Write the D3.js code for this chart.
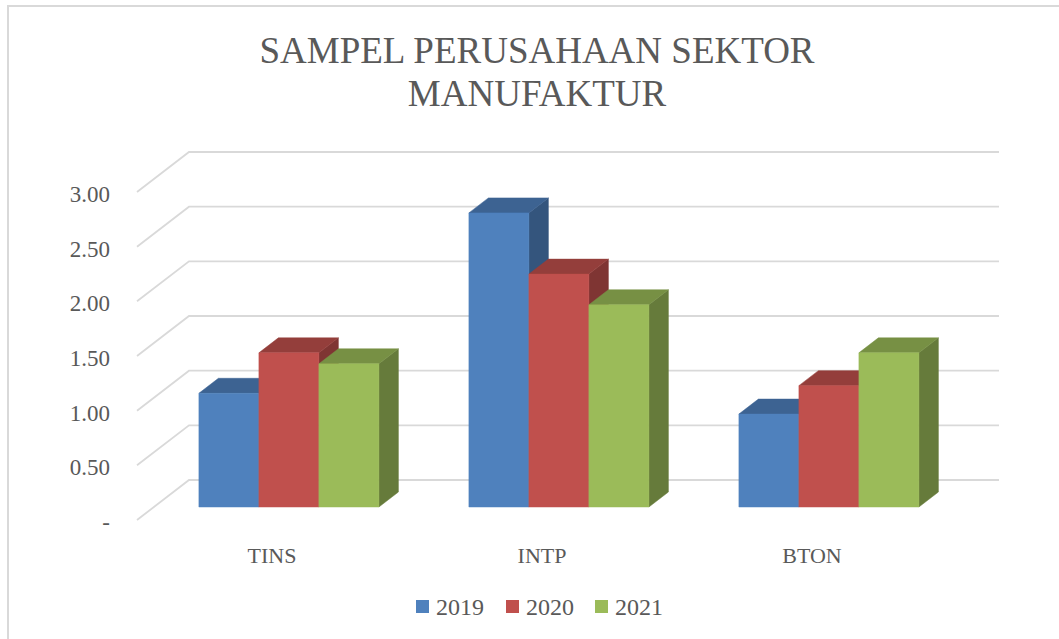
<!doctype html>
<html>

<head>
    <meta charset="utf-8">
    <title>Sampel Perusahaan Sektor Manufaktur</title>
    <style>
        body { margin: 0; background: #fff; }
    </style>
</head>

<body>
    <script src="https://d3js.org/d3.v7.min.js"></script>
    <script>
    // data
    var categories = ["TINS", "INTP", "BTON"];
    var years = ["2019", "2020", "2021"];
    var values2019 = [1.04, 2.69, 0.85];
    var values2020 = [1.41, 2.13, 1.11];
    var values2021 = [1.31, 1.85, 1.41];
    var yTicks = [0, 0.5, 1, 1.5, 2, 2.5, 3];

    var seriesValues = [values2019, values2020, values2021];
    var colors = ["#4F81BD", "#C0504D", "#9BBB59"];
    var topColors = ["#3D6392", "#943E3B", "#779044"];
    var sideColors = ["#34557D", "#7F3533", "#667B3B"];
    var serif = "'Liberation Serif', 'DejaVu Serif', serif";

    var width = 1059, height = 639;

    // front plane of the plot, and the depth offset to the back wall
    var front = { left: 137, right: 947, bottom: 520, top: 192 };
    var depth = { dx: 52, dy: -40 };
    // bars sit between these fractions of the depth
    var barFront = 0.325, barBack = 0.7;

    function proj(x, y, f) {
        return [x + f * depth.dx, y + f * depth.dy];
    }

    var svg = d3.select("body")
        .append("svg")
        .attr("width", width)
        .attr("height", height);

    // chart frame
    svg.append("rect")
        .attr("x", 8)
        .attr("y", 6)
        .attr("width", 1100)
        .attr("height", 700)
        .attr("fill", "none")
        .attr("stroke", "#D9D9D9")
        .attr("stroke-width", 2);

    var x0 = d3.scaleBand()
        .domain(categories)
        .range([front.left, front.right])
        .paddingInner(1 / 3)
        .paddingOuter(1 / 6);

    var x1 = d3.scaleBand()
        .domain(years)
        .range([0, x0.bandwidth()]);

    var y = d3.scaleLinear()
        .domain([0, 3])
        .range([front.bottom, front.top]);

    // gridlines: diagonal on the side wall, then flat on the back wall
    var grid = svg.append("g");
    yTicks.forEach(function (t) {
        var a = proj(front.left, y(t), 0);
        var b = proj(front.left, y(t), 1);
        var c = proj(front.right, y(t), 1);
        grid.append("polyline")
            .attr("points", [a, b, c].map(function (p) { return p.join(","); }).join(" "))
            .attr("fill", "none")
            .attr("stroke", "#D9D9D9")
            .attr("stroke-width", 1.8);
    });

    // y axis labels
    var yAxis = svg.append("g")
        .attr("transform", "translate(" + front.left + ",2)")
        .call(d3.axisLeft(y)
            .tickValues(yTicks)
            .tickSize(0)
            .tickPadding(27)
            .tickFormat(function (d) { return d === 0 ? "-" : d3.format(".2f")(d); }));
    yAxis.select(".domain").remove();
    yAxis.selectAll("text")
        .style("font-family", serif)
        .style("font-size", "23px")
        .style("fill", "#595959");

    // bars
    var bars = svg.append("g");
    categories.forEach(function (cat, ci) {
        years.forEach(function (yr, si) {
            var v = seriesValues[si][ci];
            var xl = x0(cat) + x1(yr);
            var xr = xl + x1.bandwidth();
            var yb = y(0), yt = y(v);

            var fTL = proj(xl, yt, barFront), fTR = proj(xr, yt, barFront);
            var fBL = proj(xl, yb, barFront), fBR = proj(xr, yb, barFront);
            var bTL = proj(xl, yt, barBack), bTR = proj(xr, yt, barBack);
            var bBR = proj(xr, yb, barBack);

            function poly(pts, fill) {
                bars.append("polygon")
                    .attr("points", pts.map(function (p) { return p.join(","); }).join(" "))
                    .attr("fill", fill)
                    .attr("stroke", fill)
                    .attr("stroke-width", 0.5);
            }
            poly([fTR, bTR, bBR, fBR], sideColors[si]);
            poly([fTL, bTL, bTR, fTR], topColors[si]);
            poly([fTL, fTR, fBR, fBL], colors[si]);
        });
    });

    // category labels
    var xAxis = svg.append("g")
        .attr("transform", "translate(0,543)")
        .call(d3.axisBottom(x0).tickSize(0).tickPadding(0));
    xAxis.select(".domain").remove();
    xAxis.selectAll("text")
        .style("font-family", serif)
        .style("font-size", "22px")
        .style("fill", "#595959")
        .attr("dy", "0.9em");

    // title
    var title = svg.append("text")
        .attr("text-anchor", "middle")
        .style("font-family", serif)
        .style("font-size", "37px")
        .style("fill", "#595959");
    title.append("tspan").attr("x", 537).attr("y", 63).text("SAMPEL PERUSAHAAN SEKTOR");
    title.append("tspan").attr("x", 537).attr("y", 106).text("MANUFAKTUR");

    // legend
    var legendX = [416, 506, 595];
    var legend = svg.append("g");
    years.forEach(function (yr, i) {
        legend.append("rect")
            .attr("x", legendX[i])
            .attr("y", 600)
            .attr("width", 13)
            .attr("height", 13)
            .attr("fill", colors[i]);
        legend.append("text")
            .attr("x", legendX[i] + 20)
            .attr("y", 615)
            .style("font-family", serif)
            .style("font-size", "24px")
            .style("fill", "#595959")
            .text(yr);
    });
    </script>
</body>
</html>
